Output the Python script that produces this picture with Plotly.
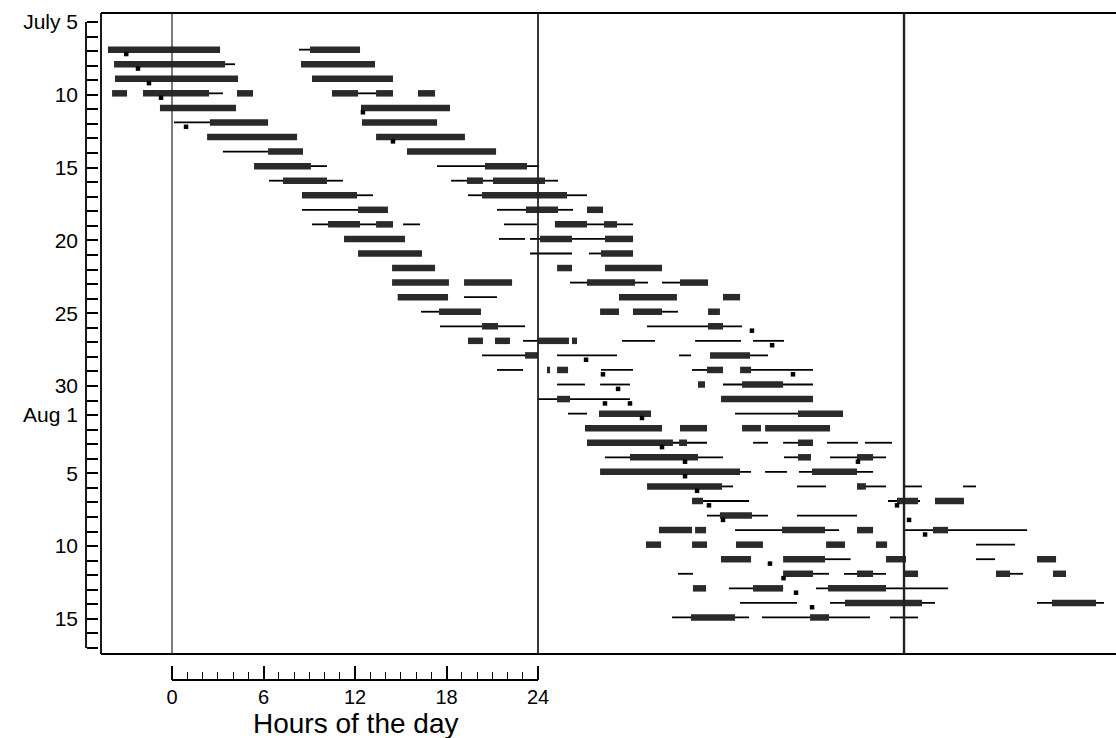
import plotly.graph_objects as go

# ---------------- data ----------------
day_ticks = list(range(0, 44))                      # July 5 = 0 ... Aug 17 = 43
day_labels = {0: "July 5", 5: "10", 10: "15", 15: "20", 20: "25", 25: "30",
              27: "Aug 1", 31: "5", 36: "10", 41: "15"}
hour_major = [0, 6, 12, 18, 24]
hour_minor = [h for h in range(1, 24) if h % 6]
ref_hours = [0, 24, 48]

row_days = list(range(2, 42))                        # July 7 ... Aug 15

thick_segments = [
    [(-4.2, 3.15), (9.05, 12.33)],
    [(-3.8, 3.48), (8.46, 13.31)],
    [(-3.74, 4.33), (9.18, 14.49)],
    [(-3.93, -2.95), (-1.9, 2.43), (4.26, 5.31), (10.49, 12.2), (13.38, 14.49), (16.13, 17.25)],
    [(-0.79, 4.2), (12.39, 18.23)],
    [(2.49, 6.3), (12.46, 17.38)],
    [(2.3, 8.2), (13.38, 19.21)],
    [(6.3, 8.59), (15.41, 21.25)],
    [(5.38, 9.11), (20.52, 23.28)],
    [(7.28, 10.16), (19.34, 20.39), (21.05, 24.46)],
    [(8.52, 12.13), (20.33, 25.9)],
    [(12.2, 14.16), (23.21, 25.31), (27.21, 28.26)],
    [(10.23, 12.33), (13.38, 14.49), (25.11, 27.21), (28.33, 29.18)],
    [(11.28, 15.28), (24.13, 26.23), (28.39, 30.23)],
    [(12.2, 16.39), (28.13, 30.23)],
    [(14.43, 17.25), (25.25, 26.23), (28.39, 32.13)],
    [(14.43, 18.16), (19.15, 22.3), (27.21, 30.36), (33.31, 35.15)],
    [(14.8, 18.1), (29.31, 33.11), (36.13, 37.25)],
    [(17.51, 20.26), (28.07, 29.31), (30.23, 32.13), (35.15, 35.93)],
    [(20.33, 21.38), (35.15, 36.13)],
    [(19.41, 20.39), (21.18, 22.16), (24.0, 26.03), (26.23, 26.56)],
    [(23.15, 24.0), (35.28, 37.9)],
    [(24.59, 24.79), (25.25, 25.97), (35.08, 36.13), (37.25, 37.97)],
    [(34.49, 34.95), (37.38, 40.07)],
    [(25.25, 26.1), (36.0, 42.03)],
    [(28.0, 31.41), (41.05, 44.0)],
    [(27.08, 32.13), (33.31, 35.08), (37.38, 38.62), (38.89, 43.15)],
    [(27.21, 32.85), (33.25, 33.77), (41.05, 42.03)],
    [(30.03, 34.49), (41.05, 41.9), (44.92, 45.97)],
    [(28.07, 37.25), (41.97, 44.92)],
    [(31.15, 36.07), (44.92, 45.5)],
    [(34.1, 34.82), (47.54, 48.92), (50.03, 51.93)],
    [(35.93, 38.03)],
    [(31.93, 34.1), (34.3, 35.02), (40.0, 42.82), (44.92, 45.97), (49.9, 50.89)],
    [(31.08, 32.07), (34.1, 35.08), (36.98, 38.75), (42.89, 44.13), (46.16, 46.89)],
    [(36.0, 37.97), (40.07, 42.82), (46.82, 48.13), (56.72, 57.97)],
    [(40.07, 42.03), (44.92, 45.97), (48.0, 48.92), (54.03, 54.95), (57.77, 58.62)],
    [(34.16, 35.02), (38.1, 40.07), (43.02, 46.82)],
    [(44.13, 49.18), (57.7, 60.59)],
    [(34.03, 36.92), (41.84, 43.08)],
]

thin_segments = [
    [(8.33, 9.05)],
    [(3.48, 4.13)],
    [],
    [(2.43, 3.34), (12.2, 13.38)],
    [],
    [(0.13, 2.49)],
    [],
    [(3.34, 6.3)],
    [(9.11, 10.16), (17.38, 20.52), (23.28, 24.07)],
    [(6.36, 7.28), (10.16, 11.21), (18.3, 19.34), (20.39, 21.05), (24.46, 25.31)],
    [(12.13, 13.18), (19.41, 20.33), (25.9, 27.21)],
    [(8.52, 12.2), (21.31, 23.21), (25.31, 26.3)],
    [(9.18, 10.23), (12.33, 13.38), (15.15, 16.26), (21.77, 23.93), (27.21, 30.23)],
    [(21.44, 23.15), (23.48, 24.13), (26.23, 28.39)],
    [(23.48, 26.23), (27.34, 28.13)],
    [],
    [(26.1, 27.21), (30.36, 31.21), (32.13, 33.31)],
    [(19.15, 21.31)],
    [(16.33, 17.51), (32.13, 33.18)],
    [(17.57, 20.33), (21.38, 23.15), (31.15, 37.38)],
    [(23.02, 24.0), (29.51, 31.67), (34.3, 37.31), (38.1, 40.13)],
    [(20.33, 24.0), (25.25, 29.18), (33.25, 34.03), (37.9, 39.08)],
    [(21.31, 23.02), (28.13, 30.23), (34.1, 35.08), (37.97, 42.03)],
    [(25.25, 27.08), (28.07, 30.03), (36.13, 42.03)],
    [(24.0, 30.03)],
    [(25.97, 27.21), (36.92, 44.0)],
    [],
    [(32.85, 35.08), (38.1, 39.08), (40.07, 42.03), (42.95, 44.98), (45.44, 47.21)],
    [(28.39, 36.13), (40.13, 41.9), (43.15, 46.82)],
    [(37.25, 37.97), (38.89, 40.33), (41.11, 45.97)],
    [(36.07, 36.79), (40.98, 42.89), (44.92, 46.82), (48.0, 49.18), (51.87, 52.72)],
    [(34.1, 37.84), (46.95, 49.05)],
    [(35.08, 39.08), (40.98, 44.92)],
    [(36.92, 43.74), (48.07, 56.07)],
    [(52.72, 55.28)],
    [(42.82, 44.5), (52.72, 53.97)],
    [(33.18, 34.16), (42.03, 43.08), (44.07, 46.82), (54.95, 55.8)],
    [(36.52, 40.07), (42.23, 50.89)],
    [(37.25, 40.98), (43.15, 50.03), (56.72, 61.11)],
    [(32.79, 37.84), (38.69, 45.77), (47.08, 48.92)],
]

marker_days = [2, 3, 4, 5, 6, 7, 8, 21, 22, 23, 24, 24, 25, 26, 26, 27, 29, 30, 30,
               31, 32, 33, 33, 34, 34, 35, 37, 38, 39, 40]
marker_hours = [-3.0, -2.23, -1.51, -0.72, 12.52, 0.92, 14.49, 38.03, 39.35, 27.15,
                28.26, 40.72, 29.25, 28.39, 30.03, 30.82, 32.13, 33.64, 44.98,
                33.64, 34.43, 35.21, 47.54, 36.13, 48.33, 49.38, 39.21, 40.1, 40.92, 41.97]

# ---------------- drawing ----------------
ROW_SHIFT = -0.1
MARK_SHIFT = 0.3


def seg_xy(segs):
    xs, ys = [], []
    for d, row in zip(row_days, segs):
        for s, e in row:
            xs += [s, e, None]
            ys += [d + ROW_SHIFT, d + ROW_SHIFT, None]
    return xs, ys


fig = go.Figure()
tx, ty = seg_xy(thin_segments)
fig.add_trace(go.Scatter(x=tx, y=ty, mode="lines", line=dict(color="black", width=1.8),
                         hoverinfo="skip"))
kx, ky = seg_xy(thick_segments)
fig.add_trace(go.Scatter(x=kx, y=ky, mode="lines", line=dict(color="#2a2a2a", width=6.5),
                         hoverinfo="skip"))
fig.add_trace(go.Scatter(x=marker_hours, y=[d + ROW_SHIFT + MARK_SHIFT for d in marker_days],
                         mode="markers",
                         marker=dict(symbol="square", size=4.5, color="black"),
                         hoverinfo="skip"))

FONT = "Liberation Sans, Arial, Helvetica, sans-serif"

fig.update_layout(
    width=1116, height=738,
    margin=dict(l=86, r=0, t=13, b=58, autoexpand=False),
    plot_bgcolor="white", paper_bgcolor="white",
    showlegend=False,
    font=dict(family=FONT, color="black"),
)

fig.update_xaxes(
    domain=[15 / 1030, 1], range=[-4.656, 61.9],
    anchor="free", position=0, automargin=False,
    tickmode="array", tickvals=hour_major, ticktext=[str(h) for h in hour_major],
    ticks="inside", ticklen=14, tickwidth=1.5, tickcolor="black",
    minor=dict(tickmode="array", tickvals=hour_minor, ticks="inside",
               ticklen=8, tickwidth=1.2, tickcolor="black"),
    showgrid=False, zeroline=False, showline=False,
    tickfont=dict(size=20, family=FONT), ticklabelstandoff=3,
)

fig.update_yaxes(
    domain=[26 / 667, 1], range=[43.41, -0.618],
    anchor="free", position=0, side="left", automargin=False,
    tickmode="array", tickvals=day_ticks,
    ticktext=[day_labels.get(d, "") for d in day_ticks],
    ticks="inside", ticklen=11, tickwidth=1.5, tickcolor="black",
    showgrid=False, zeroline=False, showline=False,
    tickfont=dict(size=21, family=FONT), ticklabelstandoff=8,
)

shapes = []
# plot box (right edge lies beyond the picture)
shapes.append(dict(type="line", xref="x domain", yref="y domain", x0=0, x1=1.05, y0=1, y1=1,
                   line=dict(color="black", width=1.8)))
shapes.append(dict(type="line", xref="x domain", yref="y domain", x0=0, x1=1.05, y0=0, y1=0,
                   line=dict(color="black", width=1.8)))
shapes.append(dict(type="line", xref="x domain", yref="y domain", x0=0, x1=0, y0=0, y1=1,
                   line=dict(color="black", width=1.8)))
# reference day boundaries
for h, w in zip(ref_hours, [1.2, 1.8, 2.4]):
    shapes.append(dict(type="line", xref="x", yref="y domain", x0=h, x1=h, y0=0, y1=1,
                       line=dict(color="#222", width=w)))
# detached y axis line
shapes.append(dict(type="line", xref="paper", yref="y", x0=0, x1=0,
                   y0=day_ticks[0], y1=day_ticks[-1], line=dict(color="black", width=1.8)))
# detached hour axis line
shapes.append(dict(type="line", xref="x", yref="paper", x0=hour_major[0], x1=hour_major[-1],
                   y0=0, y1=0, line=dict(color="black", width=1.8)))
fig.update_layout(shapes=shapes)

fig.add_annotation(text="Hours of the day", xref="x", yref="paper", x=12, y=-0.065,
                   showarrow=False, xanchor="center", yanchor="middle",
                   font=dict(size=28, family=FONT, color="black"))

fig.write_html(
    "out.html",
    config={"displayModeBar": False},
    post_script="document.body.style.margin='0';document.body.style.overflow='hidden';"
                "window.dispatchEvent(new Event('resize'));",
)
